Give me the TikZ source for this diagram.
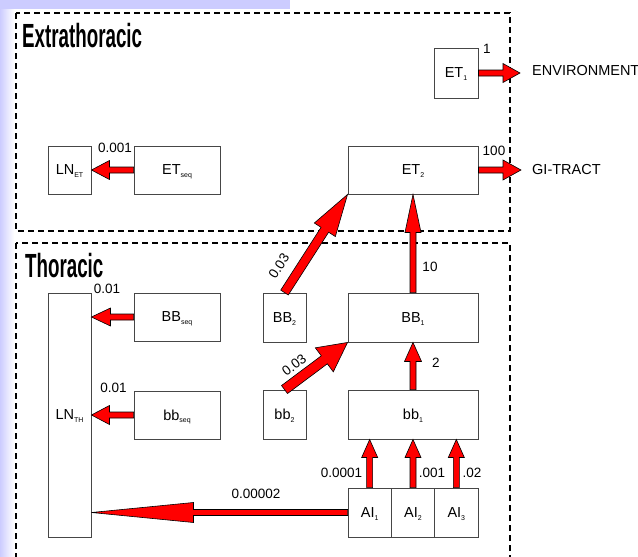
\documentclass[tikz,border=0pt]{standalone}
\usepackage{fontspec}
\setmainfont{Liberation Sans}
\newfontfamily\regionfont[FakeStretch=0.56,UprightFont={* Bold}]{Liberation Sans}
\usetikzlibrary{calc}

\definecolor{lavender}{RGB}{204,204,255}
\definecolor{boxline}{RGB}{70,70,70}

% small lowered index for compartment names
\newcommand\lsub[1]{\smash{\raisebox{-2.6pt}{\fontsize{7}{8}\selectfont #1}}}

% block arrow from #1 to #2: shaft half width #3, head half width #4, head length #5
\newcommand\blockarrow[5]{%
  \coordinate (ba-s) at (#1);
  \coordinate (ba-e) at (#2);
  \coordinate (ba-h) at ($(ba-e)!#5!(ba-s)$);
  \filldraw[flowarrow]
    ($(ba-s)!#3!90:(ba-e)$) -- ($(ba-h)!#3!90:(ba-e)$) -- ($(ba-h)!#4!90:(ba-e)$)
    -- (ba-e)
    -- ($(ba-h)!#4!-90:(ba-e)$) -- ($(ba-h)!#3!-90:(ba-e)$) -- ($(ba-s)!#3!-90:(ba-e)$)
    -- cycle;
}

\tikzset{
  compbox/.style={draw=boxline, line width=0.9pt, fill=white, inner sep=0pt,
    font=\fontsize{14.5}{16}\selectfont},
  rate/.style={font=\fontsize{13.5}{15}\selectfont, inner sep=0pt},
  sink/.style={font=\fontsize{14.5}{16}\selectfont, anchor=west, inner sep=0pt},
  flowarrow/.style={fill=red, draw=black, line width=0.6pt, line join=miter},
  region/.style={draw=black, line width=1.4pt, dash pattern=on 6pt off 4pt},
  regiontitle/.style={font=\regionfont\fontsize{33.5}{36}\selectfont,
    anchor=north west, inner sep=0pt},
}

\begin{document}
\begin{tikzpicture}[x=1pt, y=-1pt]
  \useasboundingbox (0,0) rectangle (638,557);
  \clip (0,0) rectangle (638,557);

  % page decoration
  \shade[left color=lavender, right color=white] (0,0) rectangle (14,557);
  \fill[lavender] (0,0) rectangle (290,9);

  % regions
  \draw[region] (16,13) rectangle (510,231);
  \draw[region] (16,243) rectangle (510,580);
  \node[regiontitle] (tET) at (22,23) {Extrathoracic};
  \node[regiontitle] (tTH) at (25,253) {Thoracic};

  % extrathoracic compartments
  \node[compbox, minimum width=44pt, minimum height=50pt] (ET1) at (456,73) {ET\lsub{1}};
  \node[compbox, minimum width=43pt, minimum height=48pt] (LNET) at (69.5,170) {LN\lsub{ET}};
  \node[compbox, minimum width=86pt, minimum height=48pt] (ETseq) at (177,170) {ET\lsub{seq}};
  \node[compbox, minimum width=130pt, minimum height=48pt] (ET2) at (413,170) {ET\lsub{2}};

  % thoracic compartments
  \node[compbox, minimum width=43pt, minimum height=244pt] (LNTH) at (69.5,415) {LN\lsub{TH}};
  \node[compbox, minimum width=86pt, minimum height=48pt] (BBseq) at (177,317) {BB\lsub{seq}};
  \node[compbox, minimum width=86pt, minimum height=48pt] (bbseq) at (177,415) {bb\lsub{seq}};
  \node[compbox, minimum width=43pt, minimum height=49pt] (BB2) at (284.5,317.5) {BB\lsub{2}};
  \node[compbox, minimum width=43pt, minimum height=49pt] (bb2) at (284.5,414.5) {bb\lsub{2}};
  \node[compbox, minimum width=130pt, minimum height=49pt] (BB1) at (413,317.5) {BB\lsub{1}};
  \node[compbox, minimum width=130pt, minimum height=49pt] (bb1) at (413,414.5) {bb\lsub{1}};
  \node[compbox, minimum width=43.33pt, minimum height=49pt] (AI1) at (369.67,512.5) {AI\lsub{1}};
  \node[compbox, minimum width=43.33pt, minimum height=49pt] (AI2) at (413,512.5) {AI\lsub{2}};
  \node[compbox, minimum width=43.33pt, minimum height=49pt] (AI3) at (456.33,512.5) {AI\lsub{3}};

  % sinks
  \node[sink] (env) at (532,71) {ENVIRONMENT};
  \node[sink] (git) at (532,170) {GI-TRACT};
  \coordinate (envtip) at (520,73);
  \coordinate (gitip) at (521,170);

  % transfer arrows
  \blockarrow{ET1.east}{envtip}{3pt}{9.5pt}{17pt}
  \blockarrow{ET2.east}{gitip}{3pt}{10pt}{18pt}
  \blockarrow{ETseq.west}{LNET.east}{3pt}{9.5pt}{18pt}
  \blockarrow{BB2.north}{ET2.south west}{4.5pt}{12.5pt}{42pt}
  \blockarrow{BB1.north}{ET2.south}{3pt}{8pt}{38pt}
  \blockarrow{BBseq.west}{BBseq.west -| LNTH.east}{3pt}{9pt}{19pt}
  \blockarrow{bbseq.west}{bbseq.west -| LNTH.east}{3pt}{9.5pt}{18pt}
  \blockarrow{bb2.north}{BB1.south west}{5pt}{15pt}{29pt}
  \blockarrow{bb1.north}{BB1.south}{3pt}{8.5pt}{19pt}
  \blockarrow{AI1.north}{AI1.north |- bb1.south}{3pt}{8pt}{18pt}
  \blockarrow{AI2.north}{AI2.north |- bb1.south}{3pt}{8pt}{18pt}
  \blockarrow{AI3.north}{AI3.north |- bb1.south}{3pt}{8pt}{18pt}
  \blockarrow{AI1.west}{AI1.west -| LNTH.east}{3pt}{10pt}{102pt}

  % transfer rates
  \node[rate] (r1) at (487,49) {1};
  \node[rate] (r100) at (494,151) {100};
  \node[rate] (r001) at (115,148) {0.001};
  \node[rate] (r10) at (430,267) {10};
  \node[rate, rotate=57] (r03a) at (279,266) {0.03};
  \node[rate, rotate=37] (r03b) at (294,365) {0.03};
  \node[rate] (r2) at (436,363) {2};
  \node[rate] (r01a) at (107,288.5) {0.01};
  \node[rate] (r01b) at (113.5,388) {0.01};
  \node[rate] (r0001) at (341.5,473) {0.0001};
  \node[rate] (rA2) at (432,473) {.001};
  \node[rate] (rA3) at (472,473) {.02};
  \node[rate] (r00002) at (256,494) {0.00002};
\end{tikzpicture}
\end{document}
